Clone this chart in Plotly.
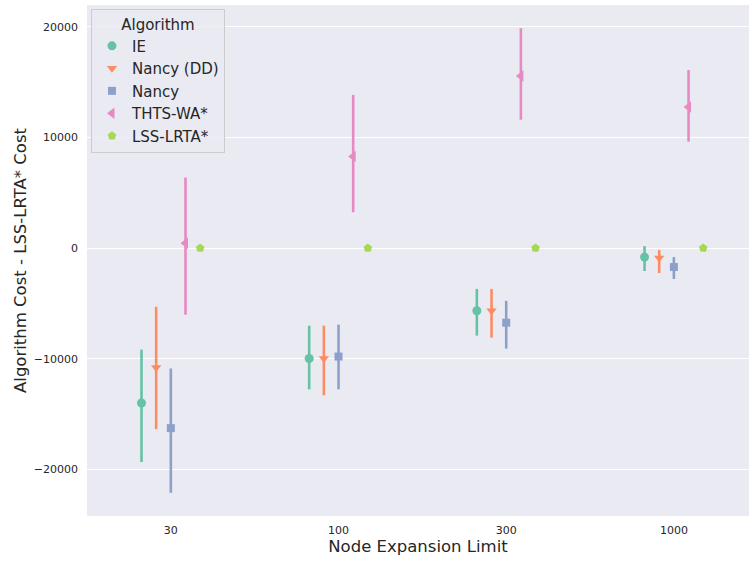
import plotly.graph_objects as go

# Datos
limits = ['30', '100', '300', '1000']
algorithms = ['IE', 'Nancy (DD)', 'Nancy', 'THTS-WA*', 'LSS-LRTA*']

ie_mean = [-14000, -9980, -5660, -810]
ie_low = [-19330, -12760, -7910, -2070]
ie_high = [-9170, -7010, -3690, 180]

dd_mean = [-10790, -9980, -5660, -900]
dd_low = [-16360, -13300, -8090, -2250]
dd_high = [-5300, -7010, -3690, -180]

nancy_mean = [-16270, -9800, -6740, -1710]
nancy_low = [-22110, -12760, -9080, -2790]
nancy_high = [-10880, -6920, -4760, -810]

thts_mean = [450, 8270, 15550, 12760]
thts_low = [-6020, 3240, 11600, 9620]
thts_high = [6380, 13840, 19870, 16090]

lss_mean = [0, 0, 0, 0]

y_ticks = [-20000, -10000, 0, 10000, 20000]

series = [
    (ie_mean, ie_low, ie_high),
    (dd_mean, dd_low, dd_high),
    (nancy_mean, nancy_low, nancy_high),
    (thts_mean, thts_low, thts_high),
    (lss_mean, None, None),
]
colors = ['#66c2a5', '#fc8d62', '#8da0cb', '#e78ac3', '#a6d854']
symbols = ['circle', 'triangle-down', 'square', 'triangle-left', 'pentagon']
sizes = [9, 9, 8, 10, 9]
dodge = [-0.175, -0.0875, 0, 0.0875, 0.175]  # desplazamiento de cada algoritmo

fig = go.Figure()

for i, (name, (mean, low, high)) in enumerate(zip(algorithms, series)):
    x = [k + dodge[i] for k in range(len(limits))]
    err = None
    if low is not None:
        err = dict(
            type='data',
            symmetric=False,
            array=[h - m for h, m in zip(high, mean)],
            arrayminus=[m - l for m, l in zip(mean, low)],
            color=colors[i],
            thickness=2.6,
            width=0,
        )
    fig.add_trace(go.Scatter(
        x=x,
        y=mean,
        mode='markers',
        name=name,
        marker=dict(color=colors[i], symbol=symbols[i], size=sizes[i], line=dict(width=0)),
        error_y=err,
    ))

fig.update_layout(
    width=749,
    height=563,
    margin=dict(l=87, r=0, t=5, b=47),
    paper_bgcolor='white',
    plot_bgcolor='#eaeaf2',
    font=dict(family='DejaVu Sans', color='#262626'),
    legend=dict(
        title=dict(text='Algorithm', font=dict(size=15), side='top center'),
        font=dict(size=15),
        x=0.006, y=0.992,
        xanchor='left', yanchor='top',
        bgcolor='rgba(234,234,242,0.8)',
        bordercolor='#cccccc',
        borderwidth=1,
        tracegroupgap=0,
    ),
)

fig.update_xaxes(
    range=[-0.5, 3.448],
    tickvals=list(range(len(limits))),
    ticktext=limits,
    showgrid=False,
    zeroline=False,
    tickfont=dict(size=11),
    ticklabelstandoff=6,
    title=dict(text='Node Expansion Limit', font=dict(size=16.5), standoff=4),
)
fig.update_yaxes(
    range=[-24209, 21969],
    tickvals=y_ticks,
    tickformat='d',
    gridcolor='white',
    gridwidth=1,
    zeroline=False,
    tickfont=dict(size=11),
    ticklabelstandoff=8,
    title=dict(text='Algorithm Cost - LSS-LRTA* Cost', font=dict(size=16.5), standoff=3),
)

# quitar el margen del body para que la figura empiece en (0, 0)
fig.write_html('out.html', config={'displayModeBar': False},
               post_script="document.body.style.margin='0';")
